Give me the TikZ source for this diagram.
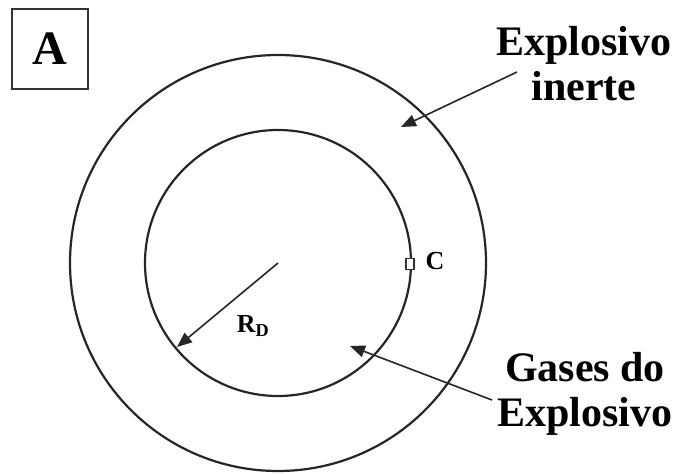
\documentclass[tikz,border=0pt]{standalone}
\usepackage{fontspec}
\setmainfont{Liberation Serif}
\usetikzlibrary{arrows.meta}
\begin{document}
\begin{tikzpicture}[x=1pt,y=-1pt,
  ring/.style={draw=black!85, line width=2.2pt},
  pointer/.style={draw=black!85, line width=1.6pt, -{Triangle[length=15pt,width=12pt]}},
  biglabel/.style={font=\bfseries\fontsize{42}{45}\selectfont, align=center, inner sep=0pt},
  smalllabel/.style={font=\bfseries\fontsize{26}{28}\selectfont, inner sep=0pt}]
\useasboundingbox (0,0) rectangle (675,474);
\coordinate (ctr) at (278,263);
\node[ring, circle, minimum size=416pt, inner sep=0pt] (outer) at (ctr) {};
\node[ring, circle, minimum size=266pt, inner sep=0pt] (inner) at (ctr) {};
% box A
\node[draw=black!80, line width=2pt, minimum width=76pt, minimum height=80pt, inner sep=0pt,
      font=\bfseries\fontsize{48}{50}\selectfont] (boxA) at (50,49) {A};
% labels
\node[biglabel, anchor=north] (inerte) at (584,26) {Explosivo\\inerte};
\node[biglabel, anchor=north] (gases) at (585,352) {Gases do\\Explosivo};
% C marker
\node[draw=black!80, line width=1.2pt, fill=white, minimum width=8pt, minimum height=11pt, inner sep=0pt] (cmark) at (410,264) {};
\node[smalllabel] (clabel) at (435,261) {C};
% radius
\coordinate (rtip) at (177,347);
\draw[pointer] (ctr) -- (rtip);
\node[smalllabel] (rlabel) at (253,326) {R\textsubscript{D}};
% pointers
\coordinate (s1) at (517,72);
\coordinate (t1) at (401,127);
\draw[pointer] (s1) -- (t1);
\coordinate (s2) at (492,400);
\coordinate (t2) at (350,346);
\draw[pointer] (s2) -- (t2);
\end{tikzpicture}
\end{document}
